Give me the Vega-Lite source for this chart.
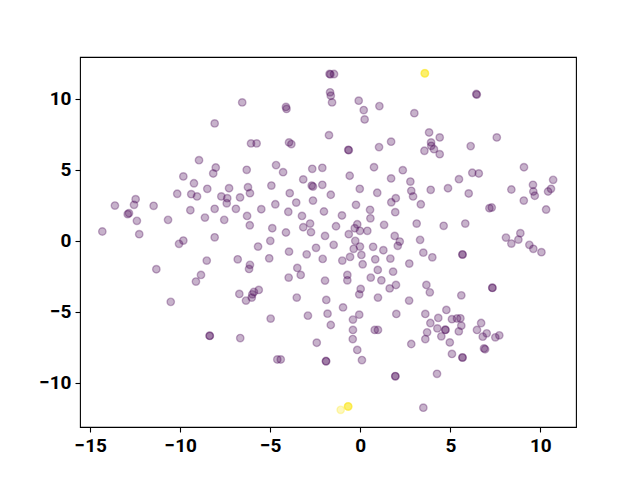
{
 "$schema": "https://vega.github.io/schema/vega-lite/v6.json",
 "width": 496, "height": 370,
 "autosize": {"type": "none"},
 "padding": {"left": 80, "top": 57, "right": 64, "bottom": 53},
 "config": {
  "view": {"stroke": "black", "strokeWidth": 1.1},
  "axis": {"grid": false, "domain": false, "tickColor": "black", "tickSize": 5, "tickWidth": 1.1, "labelColor": "black", "labelFontSize": 19, "labelFont": "Roboto", "labelFontWeight": "bold", "labelPadding": 4, "title": null}
 },
 "data": {"values": [
  {"x":-8.96,"y":5.69,"c":0},{"x":-9.83,"y":4.54,"c":0},{"x":-9.24,"y":4.06,"c":0},{"x":-6.56,"y":9.76,"c":0},
  {"x":-4.13,"y":9.44,"c":0},{"x":-4.10,"y":9.30,"c":0},{"x":-8.09,"y":8.28,"c":0},{"x":-6.07,"y":6.87,"c":0},
  {"x":-5.76,"y":6.87,"c":0},{"x":-3.96,"y":6.94,"c":0},{"x":-3.83,"y":6.82,"c":0},{"x":-1.74,"y":7.45,"c":0},
  {"x":-8.03,"y":5.17,"c":0},{"x":-8.17,"y":4.75,"c":0},{"x":-6.31,"y":5.01,"c":0},{"x":-4.68,"y":5.34,"c":0},
  {"x":-4.29,"y":4.84,"c":0},{"x":-2.67,"y":5.08,"c":0},{"x":-2.11,"y":5.15,"c":0},{"x":-3.17,"y":4.33,"c":0},
  {"x":-1.71,"y":11.77,"c":0},{"x":-1.66,"y":11.74,"c":0},{"x":-1.46,"y":11.76,"c":0},{"x":-1.68,"y":10.47,"c":0},
  {"x":-1.64,"y":10.23,"c":0},{"x":-1.57,"y":9.76,"c":0},{"x":-0.09,"y":9.88,"c":0},{"x":1.06,"y":9.50,"c":0},
  {"x":0.19,"y":9.22,"c":0},{"x":0.24,"y":8.56,"c":0},{"x":3.0,"y":9.0,"c":0},{"x":3.82,"y":7.64,"c":0},
  {"x":4.41,"y":7.29,"c":0},{"x":3.93,"y":6.94,"c":0},{"x":3.94,"y":6.70,"c":0},{"x":4.09,"y":6.46,"c":0},
  {"x":3.56,"y":6.35,"c":0},{"x":4.41,"y":6.11,"c":0},{"x":-0.67,"y":6.42,"c":0},{"x":-0.64,"y":6.39,"c":0},
  {"x":1.04,"y":6.61,"c":0},{"x":1.71,"y":6.99,"c":0},{"x":0.76,"y":5.19,"c":0},{"x":2.36,"y":4.98,"c":0},
  {"x":-0.59,"y":4.59,"c":0},{"x":1.71,"y":4.40,"c":0},{"x":2.78,"y":4.18,"c":0},{"x":6.44,"y":10.35,"c":0},
  {"x":6.47,"y":10.31,"c":0},{"x":7.58,"y":7.29,"c":0},{"x":6.13,"y":6.68,"c":0},{"x":9.09,"y":5.19,"c":0},
  {"x":6.22,"y":4.80,"c":0},{"x":6.58,"y":4.75,"c":0},{"x":5.48,"y":4.35,"c":0},{"x":10.71,"y":4.30,"c":0},
  {"x":-10.17,"y":3.32,"c":0},{"x":-9.39,"y":3.29,"c":0},{"x":-9.07,"y":3.13,"c":0},{"x":-8.50,"y":3.67,"c":0},
  {"x":-13.63,"y":2.49,"c":0},{"x":-12.48,"y":2.94,"c":0},{"x":-12.57,"y":2.54,"c":0},{"x":-12.85,"y":1.95,"c":0},
  {"x":-12.92,"y":1.88,"c":0},{"x":-11.48,"y":2.47,"c":0},{"x":-12.41,"y":1.41,"c":0},{"x":-9.44,"y":2.16,"c":0},
  {"x":-10.68,"y":1.48,"c":0},{"x":-8.63,"y":1.64,"c":0},{"x":-14.33,"y":0.66,"c":0},{"x":-12.28,"y":0.47,"c":0},
  {"x":-9.83,"y":0.02,"c":0},{"x":-10.07,"y":-0.21,"c":0},{"x":-11.33,"y":-2.0,"c":0},{"x":-8.85,"y":-2.40,"c":0},
  {"x":-9.13,"y":-2.87,"c":0},{"x":-10.53,"y":-4.30,"c":0},{"x":-7.29,"y":3.71,"c":0},{"x":-6.24,"y":3.78,"c":0},
  {"x":-6.13,"y":3.36,"c":0},{"x":-4.94,"y":3.90,"c":0},{"x":-2.70,"y":3.90,"c":0},{"x":-2.63,"y":3.83,"c":0},
  {"x":-2.11,"y":3.95,"c":0},{"x":-7.72,"y":3.13,"c":0},{"x":-7.39,"y":3.01,"c":0},{"x":-7.42,"y":2.65,"c":0},
  {"x":-6.68,"y":3.06,"c":0},{"x":-3.92,"y":3.36,"c":0},{"x":-1.64,"y":3.25,"c":0},{"x":-8.09,"y":2.26,"c":0},
  {"x":-6.91,"y":2.26,"c":0},{"x":-5.50,"y":2.23,"c":0},{"x":-4.72,"y":2.58,"c":0},{"x":-3.56,"y":2.70,"c":0},
  {"x":-2.63,"y":2.84,"c":0},{"x":-7.56,"y":1.48,"c":0},{"x":-6.29,"y":1.76,"c":0},{"x":-6.14,"y":1.10,"c":0},
  {"x":-4.0,"y":2.05,"c":0},{"x":-3.24,"y":1.76,"c":0},{"x":-2.02,"y":2.07,"c":0},{"x":-4.89,"y":0.89,"c":0},
  {"x":-4.13,"y":0.59,"c":0},{"x":-3.17,"y":0.96,"c":0},{"x":-2.79,"y":1.22,"c":0},{"x":-2.74,"y":0.61,"c":0},
  {"x":-1.96,"y":0.35,"c":0},{"x":-8.09,"y":0.25,"c":0},{"x":-5.68,"y":-0.40,"c":0},{"x":-5.0,"y":0.0,"c":0},
  {"x":-3.96,"y":-0.76,"c":0},{"x":-2.98,"y":-0.95,"c":0},{"x":-2.46,"y":-0.49,"c":0},{"x":-8.53,"y":-1.39,"c":0},
  {"x":-6.81,"y":-1.30,"c":0},{"x":-5.06,"y":-1.23,"c":0},{"x":-6.13,"y":-1.69,"c":0},{"x":-6.18,"y":-1.98,"c":0},
  {"x":-2.09,"y":-1.27,"c":0},{"x":-3.50,"y":-1.91,"c":0},{"x":-3.31,"y":-2.40,"c":0},{"x":-3.98,"y":-2.59,"c":0},
  {"x":-1.96,"y":-2.80,"c":0},{"x":-6.72,"y":-3.74,"c":0},{"x":-6.35,"y":-4.21,"c":0},{"x":-6.0,"y":-3.77,"c":0},
  {"x":-5.91,"y":-3.60,"c":0},{"x":-6.03,"y":-4.0,"c":0},{"x":-5.64,"y":-3.46,"c":0},{"x":-3.53,"y":-4.0,"c":0},
  {"x":-1.89,"y":-4.16,"c":0},{"x":-0.03,"y":3.67,"c":0},{"x":0.94,"y":3.39,"c":0},{"x":2.83,"y":3.53,"c":0},
  {"x":2.93,"y":3.13,"c":0},{"x":3.91,"y":3.60,"c":0},{"x":4.87,"y":3.71,"c":0},{"x":1.97,"y":3.01,"c":0},
  {"x":1.72,"y":2.72,"c":0},{"x":3.36,"y":2.58,"c":0},{"x":-0.24,"y":2.54,"c":0},{"x":0.54,"y":2.19,"c":0},
  {"x":0.56,"y":1.59,"c":0},{"x":1.94,"y":2.02,"c":0},{"x":-1.02,"y":1.79,"c":0},{"x":-1.35,"y":1.03,"c":0},
  {"x":-0.17,"y":1.17,"c":0},{"x":-0.31,"y":0.89,"c":0},{"x":-0.02,"y":0.71,"c":0},{"x":-0.64,"y":0.47,"c":0},
  {"x":0.39,"y":0.71,"c":0},{"x":1.32,"y":1.13,"c":0},{"x":3.13,"y":1.22,"c":0},{"x":4.63,"y":1.06,"c":0},
  {"x":1.91,"y":0.35,"c":0},{"x":2.19,"y":-0.05,"c":0},{"x":2.08,"y":-0.35,"c":0},{"x":-0.28,"y":0.0,"c":0},
  {"x":-0.02,"y":-0.40,"c":0},{"x":-0.37,"y":-0.56,"c":0},{"x":0.06,"y":-0.99,"c":0},{"x":0.71,"y":-0.42,"c":0},
  {"x":1.28,"y":-0.66,"c":0},{"x":-1.48,"y":-0.28,"c":0},{"x":3.32,"y":0.07,"c":0},{"x":3.50,"y":-0.83,"c":0},
  {"x":4.0,"y":-1.16,"c":0},{"x":-0.57,"y":-1.13,"c":0},{"x":-1.0,"y":-1.39,"c":0},{"x":0.83,"y":-1.30,"c":0},
  {"x":1.67,"y":-1.25,"c":0},{"x":2.72,"y":-1.60,"c":0},{"x":0.13,"y":-1.65,"c":0},{"x":0.97,"y":-2.05,"c":0},
  {"x":1.82,"y":-2.17,"c":0},{"x":-0.72,"y":-2.40,"c":0},{"x":-0.72,"y":-2.78,"c":0},{"x":0.58,"y":-2.59,"c":0},
  {"x":1.17,"y":-2.78,"c":0},{"x":1.98,"y":-3.11,"c":0},{"x":1.63,"y":-3.35,"c":0},{"x":3.67,"y":-3.11,"c":0},
  {"x":3.86,"y":-3.63,"c":0},{"x":0.02,"y":-3.39,"c":0},{"x":-0.06,"y":-3.77,"c":0},{"x":0.98,"y":-4.0,"c":0},
  {"x":2.71,"y":-4.21,"c":0},{"x":6.02,"y":3.34,"c":0},{"x":8.39,"y":3.62,"c":0},{"x":9.59,"y":3.95,"c":0},
  {"x":9.61,"y":3.48,"c":0},{"x":9.69,"y":3.18,"c":0},{"x":10.43,"y":3.48,"c":0},{"x":10.59,"y":3.67,"c":0},
  {"x":9.08,"y":2.84,"c":0},{"x":10.32,"y":2.21,"c":0},{"x":7.17,"y":2.30,"c":0},{"x":7.30,"y":2.35,"c":0},
  {"x":5.83,"y":1.22,"c":0},{"x":8.09,"y":0.23,"c":0},{"x":8.39,"y":-0.19,"c":0},{"x":8.78,"y":0.09,"c":0},
  {"x":8.89,"y":0.54,"c":0},{"x":9.39,"y":-0.28,"c":0},{"x":9.61,"y":-0.56,"c":0},{"x":10.06,"y":-0.80,"c":0},
  {"x":5.67,"y":-0.95,"c":0},{"x":5.68,"y":-0.97,"c":0},{"x":7.33,"y":-3.30,"c":0},{"x":7.34,"y":-3.32,"c":0},
  {"x":5.61,"y":-3.84,"c":0},{"x":-4.98,"y":-5.48,"c":0},{"x":-2.91,"y":-5.27,"c":0},{"x":-1.82,"y":-5.13,"c":0},
  {"x":-1.64,"y":-5.93,"c":0},{"x":-8.37,"y":-6.68,"c":0},{"x":-8.36,"y":-6.70,"c":0},{"x":-6.67,"y":-6.85,"c":0},
  {"x":-2.42,"y":-7.18,"c":0},{"x":-4.61,"y":-8.36,"c":0},{"x":-4.42,"y":-8.36,"c":0},{"x":-1.91,"y":-8.47,"c":0},
  {"x":-1.90,"y":-8.49,"c":0},{"x":-0.96,"y":-4.69,"c":0},{"x":-0.06,"y":-5.20,"c":0},{"x":-0.41,"y":-5.55,"c":0},
  {"x":-0.41,"y":-6.28,"c":0},{"x":-0.42,"y":-6.92,"c":0},{"x":-0.17,"y":-7.69,"c":0},{"x":0.09,"y":-8.40,"c":0},
  {"x":0.80,"y":-6.28,"c":0},{"x":0.98,"y":-6.28,"c":0},{"x":2.0,"y":-5.15,"c":0},{"x":2.83,"y":-7.27,"c":0},
  {"x":3.61,"y":-5.15,"c":0},{"x":3.89,"y":-5.79,"c":0},{"x":3.71,"y":-6.45,"c":0},{"x":3.61,"y":-6.92,"c":0},
  {"x":4.33,"y":-5.43,"c":0},{"x":4.78,"y":-4.87,"c":0},{"x":5.09,"y":-5.52,"c":0},{"x":4.28,"y":-6.17,"c":0},
  {"x":4.72,"y":-6.26,"c":0},{"x":4.73,"y":-6.28,"c":0},{"x":4.50,"y":-6.73,"c":0},{"x":4.97,"y":-7.16,"c":0},
  {"x":5.09,"y":-7.97,"c":0},{"x":1.94,"y":-9.53,"c":0},{"x":1.95,"y":-9.55,"c":0},{"x":4.26,"y":-9.37,"c":0},
  {"x":3.50,"y":-11.76,"c":0},{"x":5.37,"y":-5.47,"c":0},{"x":5.56,"y":-5.46,"c":0},{"x":5.61,"y":-5.98,"c":0},
  {"x":5.47,"y":-6.38,"c":0},{"x":5.67,"y":-8.21,"c":0},{"x":5.68,"y":-8.23,"c":0},{"x":6.71,"y":-5.79,"c":0},
  {"x":6.48,"y":-6.28,"c":0},{"x":7.02,"y":-6.52,"c":0},{"x":6.80,"y":-6.75,"c":0},{"x":6.87,"y":-7.58,"c":0},
  {"x":6.93,"y":-7.64,"c":0},{"x":7.50,"y":-6.80,"c":0},{"x":7.72,"y":-6.66,"c":0},
  {"x":3.58,"y":11.81,"c":1},{"x":3.59,"y":11.82,"c":1},{"x":3.58,"y":11.80,"c":1},{"x":-1.09,"y":-11.91,"c":1},{"x":-0.68,"y":-11.67,"c":1},{"x":-0.67,"y":-11.68,"c":1},{"x":-0.68,"y":-11.66,"c":1}
 ]},
 "mark": {"type": "point", "filled": true, "shape": "circle", "size": 55, "fillOpacity": 0.3, "strokeOpacity": 0.3, "strokeWidth": 1.4},
 "encoding": {
  "x": {"field": "x", "type": "quantitative", "scale": {"domain": [-15.57, 11.98], "nice": false, "zero": false}, "axis": {"values": [-15, -10, -5, 0, 5, 10]}},
  "y": {"field": "y", "type": "quantitative", "scale": {"domain": [-13.12, 12.96], "nice": false, "zero": false}, "axis": {"values": [-10, -5, 0, 5, 10]}},
  "fill": {"field": "c", "type": "nominal", "scale": {"domain": [0, 1], "range": ["#440154", "#fde725"]}, "legend": null},
  "stroke": {"field": "c", "type": "nominal", "scale": {"domain": [0, 1], "range": ["#440154", "#fde725"]}, "legend": null}
 }
}
